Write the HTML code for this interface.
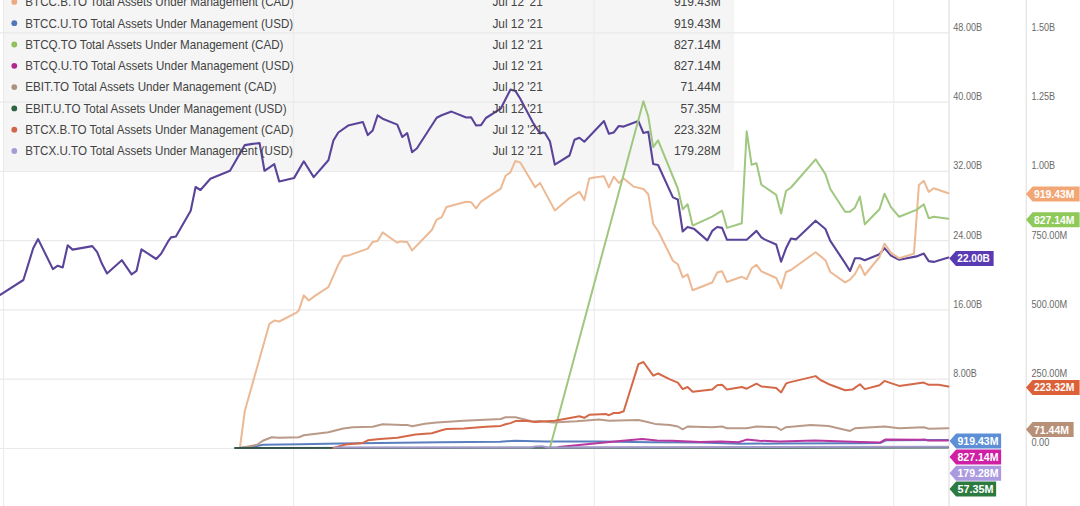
<!DOCTYPE html>
<html><head><meta charset="utf-8"><title>Total Assets Under Management</title>
<style>
html,body{margin:0;padding:0;background:#fff;overflow:hidden}
svg{display:block}
text{font-family:"Liberation Sans",Arial,sans-serif}
.lg{font-size:12.6px;fill:#434343}
.ax{font-size:10.5px;fill:#6a6a6a}
.tg{font-size:11.3px;font-weight:bold;fill:#fff}
</style></head><body>
<svg width="1080" height="506" viewBox="0 0 1080 506">
<rect x="0" y="0" width="1080" height="506" fill="#fff"/>
<rect x="3.5" y="-20" width="730.5" height="190.5" fill="#f5f5f5"/>
<line x1="0" x2="949" y1="32.8" y2="32.8" stroke="#e9e9e9" stroke-width="1.2"/>
<line x1="0" x2="949" y1="102.1" y2="102.1" stroke="#e9e9e9" stroke-width="1.2"/>
<line x1="0" x2="949" y1="171.4" y2="171.4" stroke="#e9e9e9" stroke-width="1.2"/>
<line x1="0" x2="949" y1="240.7" y2="240.7" stroke="#e9e9e9" stroke-width="1.2"/>
<line x1="0" x2="949" y1="309.9" y2="309.9" stroke="#e9e9e9" stroke-width="1.2"/>
<line x1="0" x2="949" y1="379.2" y2="379.2" stroke="#e9e9e9" stroke-width="1.2"/>
<line x1="0" x2="949" y1="448.5" y2="448.5" stroke="#e9e9e9" stroke-width="1.2"/>
<line x1="3.5" x2="3.5" y1="0" y2="506" stroke="#ebebeb" stroke-width="1.1"/>
<line x1="293.5" x2="293.5" y1="0" y2="506" stroke="#ebebeb" stroke-width="1.1"/>
<line x1="594.2" x2="594.2" y1="0" y2="506" stroke="#ebebeb" stroke-width="1.1"/>
<line x1="893.8" x2="893.8" y1="0" y2="506" stroke="#ebebeb" stroke-width="1.1"/>
<line x1="949" x2="949" y1="0" y2="506" stroke="#e6e6e6" stroke-width="1.4"/>
<line x1="1026.3" x2="1026.3" y1="0" y2="506" stroke="#e6e6e6" stroke-width="1.4"/>
<path d="M-3.0,297.5 L-1.2,295.7 L23.4,280.0 L33.2,248.3 L38.1,239.1 L52.9,269.1 L57.8,265.7 L62.7,267.4 L67.7,245.2 L72.6,249.6 L92.3,246.1 L97.2,252.2 L102.1,264.1 L107.0,273.5 L121.8,260.2 L131.6,274.4 L136.5,270.9 L141.5,249.3 L156.2,259.0 L161.1,253.7 L167.8,241.9 L171.0,237.4 L175.9,236.5 L190.7,210.7 L195.6,187.0 L200.5,190.0 L210.4,178.7 L220.2,174.7 L230.0,170.8 L244.8,145.1 L252.6,143.9 L259.6,143.1 L264.5,170.8 L274.3,164.2 L279.2,181.4 L294.0,178.1 L303.8,161.3 L313.7,177.1 L328.4,160.3 L333.4,140.5 L338.3,132.5 L348.1,125.6 L362.9,122.0 L367.8,135.1 L372.7,130.5 L377.6,115.3 L382.6,118.7 L397.3,124.6 L402.3,137.0 L407.2,133.1 L412.1,152.3 L417.0,148.3 L436.7,117.7 L441.6,115.3 L451.5,111.6 L466.2,117.5 L471.1,117.2 L476.1,125.5 L481.0,125.1 L485.9,118.0 L500.7,108.7 L510.5,89.5 L515.4,90.9 L520.3,98.8 L532.9,122.5 L540.0,133.4 L542.8,132.4 L544.9,133.0 L549.9,141.3 L554.8,164.6 L569.5,155.5 L574.5,139.7 L579.4,137.7 L584.3,141.7 L604.0,121.1 L608.9,133.8 L613.8,132.4 L618.8,126.0 L623.7,126.6 L638.4,121.1 L643.4,133.0 L648.3,131.8 L653.2,164.0 L658.1,165.0 L672.9,197.4 L677.8,199.5 L682.7,231.5 L687.6,227.0 L694.4,229.1 L707.3,240.4 L712.2,230.9 L717.2,227.0 L722.1,227.9 L727.0,239.8 L746.7,239.8 L756.5,230.9 L761.4,237.4 L764.5,239.4 L776.2,244.5 L781.1,261.7 L786.0,248.3 L791.0,238.5 L795.9,239.4 L815.6,220.7 L825.4,229.0 L830.3,240.9 L845.1,263.1 L850.0,271.0 L854.9,258.3 L859.9,258.3 L864.8,260.3 L879.5,254.2 L884.5,248.1 L891.0,255.6 L899.2,259.7 L916.5,256.4 L923.8,253.6 L928.7,261.1 L933.7,261.9 L948.4,257.5" fill="none" stroke="#5a4499" stroke-width="2.1" stroke-linejoin="round" stroke-linecap="round"/>
<path d="M239.9,448.0 L244.8,410.9 L269.4,323.8 L274.3,320.6 L279.2,321.5 L296.5,312.7 L298.9,310.3 L303.8,295.4 L308.8,300.5 L315.6,295.4 L328.4,287.2 L338.3,264.6 L343.2,256.3 L348.1,255.6 L367.8,248.6 L372.7,241.9 L377.6,240.9 L382.6,232.4 L397.3,242.7 L400.4,241.4 L407.2,241.9 L412.1,250.4 L431.8,230.0 L436.7,219.6 L441.6,217.4 L446.5,207.0 L466.2,201.7 L471.1,202.2 L476.1,208.3 L481.0,201.7 L500.7,188.7 L505.6,175.7 L510.5,172.2 L515.4,160.9 L520.3,162.6 L535.1,187.3 L540.0,182.9 L554.8,210.4 L569.5,198.0 L579.4,191.8 L584.3,200.1 L589.2,178.4 L594.2,177.6 L604.0,176.3 L608.9,187.3 L613.8,176.7 L618.8,182.9 L623.7,178.4 L633.5,186.6 L643.4,189.0 L648.3,194.2 L653.2,223.9 L658.1,231.0 L672.9,260.7 L677.8,264.2 L682.7,277.3 L687.6,274.4 L692.6,290.3 L712.2,282.5 L717.2,272.5 L722.1,271.3 L727.0,282.0 L741.8,276.8 L746.7,279.2 L751.6,268.3 L756.5,264.9 L761.4,271.3 L776.2,278.0 L781.1,288.4 L786.0,272.0 L791.0,270.0 L815.6,252.2 L825.4,260.2 L830.3,272.0 L845.1,282.4 L850.0,279.7 L854.9,274.1 L859.9,264.7 L864.8,275.0 L879.5,257.0 L884.5,243.7 L891.0,252.8 L899.2,258.3 L914.0,253.6 L918.9,184.9 L923.8,180.8 L928.7,191.9 L933.7,188.3 L948.4,193.2" fill="none" stroke="#ecb994" stroke-width="2" stroke-linejoin="round" stroke-linecap="round"/>
<path d="M240.0,448.0 L257.0,446.0 L263.0,444.8 L300.0,444.3 L340.0,443.4 L440.0,442.3 L500.0,441.7 L515.0,440.8 L545.0,441.5 L600.0,441.6 L650.0,442.2 L700.0,442.6 L740.0,443.8 L780.0,443.5 L860.0,443.2 L880.0,443.0 L886.0,440.3 L948.0,440.1" fill="none" stroke="#5a7fbf" stroke-width="2" stroke-linejoin="round" stroke-linecap="round"/>
<path d="M549.9,448.0 L643.4,101.3 L648.3,116.6 L653.2,147.2 L658.1,140.3 L677.8,188.5 L682.7,209.3 L687.6,204.2 L692.6,225.6 L712.2,216.7 L722.1,210.7 L727.0,227.9 L741.8,223.2 L746.7,131.3 L751.6,164.8 L756.5,163.3 L761.4,184.7 L776.2,194.9 L781.1,213.6 L786.0,191.0 L791.0,187.5 L815.6,159.3 L825.4,174.1 L830.3,189.0 L845.1,211.8 L850.0,211.8 L854.9,207.7 L859.9,196.6 L864.8,224.3 L879.5,209.3 L884.5,193.8 L891.0,207.1 L899.2,216.8 L916.5,209.9 L923.8,204.3 L928.7,218.2 L933.7,216.8 L948.4,218.7" fill="none" stroke="#9fc77f" stroke-width="2" stroke-linejoin="round" stroke-linecap="round"/>
<path d="M558.5,446.9 L620.0,441.1 L642.2,438.9 L657.0,440.4 L672.0,440.7 L700.0,441.9 L720.7,441.5 L738.5,442.2 L746.7,439.6 L759.3,440.7 L780.0,441.6 L815.0,440.6 L860.0,441.9 L880.4,442.4 L885.6,439.4 L919.6,439.8 L924.7,439.4 L928.1,440.6 L948.0,440.6" fill="none" stroke="#b8369f" stroke-width="2" stroke-linejoin="round" stroke-linecap="round"/>
<path d="M239.9,448.0 L257.2,444.8 L262.8,440.8 L271.7,437.2 L279.2,437.8 L298.9,437.2 L303.8,435.3 L328.4,432.2 L343.2,428.5 L353.0,427.3 L372.7,426.7 L382.6,424.3 L402.3,425.1 L407.2,424.9 L412.1,426.3 L424.9,423.7 L436.7,422.5 L463.7,420.8 L500.7,419.0 L505.6,417.2 L515.4,417.2 L532.5,421.4 L540.0,421.1 L552.7,422.5 L576.7,421.3 L599.1,419.6 L608.9,420.7 L638.4,420.0 L646.3,421.7 L655.0,423.9 L670.0,425.0 L677.8,426.5 L682.7,429.3 L687.6,426.5 L712.2,427.2 L722.1,426.5 L727.0,428.3 L746.7,428.3 L756.5,426.5 L776.2,427.2 L781.1,430.0 L786.0,427.2 L810.7,425.0 L828.5,426.1 L850.0,430.9 L854.9,428.3 L884.5,426.5 L899.2,428.3 L923.8,427.2 L928.7,428.7 L948.4,428.3" fill="none" stroke="#b99a88" stroke-width="2" stroke-linejoin="round" stroke-linecap="round"/>
<path d="M235.0,448.0 L948.0,447.6" fill="none" stroke="#35574a" stroke-width="2" stroke-linejoin="round" stroke-linecap="round"/>
<path d="M333.4,448.0 L345.4,444.5 L362.9,442.9 L367.8,440.3 L379.8,439.1 L397.3,437.7 L415.4,434.6 L431.8,433.2 L441.6,430.2 L446.5,429.1 L463.7,428.5 L485.9,426.7 L500.7,425.9 L505.6,424.3 L510.5,423.1 L515.4,421.1 L525.3,420.8 L535.1,421.9 L554.8,420.7 L579.4,416.3 L584.3,417.8 L589.2,414.8 L606.1,414.1 L608.9,415.2 L613.8,413.0 L618.8,413.0 L623.7,411.3 L638.4,364.1 L643.4,362.0 L653.2,375.7 L658.1,373.5 L670.0,379.3 L677.8,382.6 L682.7,389.1 L687.6,387.0 L692.6,391.7 L712.2,389.6 L717.2,385.2 L722.1,384.8 L727.0,389.6 L741.8,387.0 L746.7,388.7 L756.5,383.7 L761.4,386.5 L776.2,388.0 L781.1,392.4 L786.0,383.7 L788.3,382.6 L815.6,376.1 L820.5,380.0 L830.3,384.8 L845.1,390.2 L852.4,389.6 L859.9,384.3 L864.8,389.1 L879.5,385.2 L884.5,380.9 L889.4,382.6 L899.2,385.9 L923.8,382.6 L928.7,384.8 L938.6,384.8 L948.4,386.5" fill="none" stroke="#d46848" stroke-width="2" stroke-linejoin="round" stroke-linecap="round"/>
<path d="M335.0,447.6 L530.0,447.5 L536.0,446.4 L542.0,446.2 L548.0,447.4 L948.0,446.7" fill="none" stroke="#a29bc9" stroke-width="2" stroke-linejoin="round" stroke-linecap="round"/>
<circle cx="14.3" cy="1.9" r="2.9" fill="#eeaa80"/>
<text x="25.3" y="6.2" class="lg" textLength="268.3" lengthAdjust="spacingAndGlyphs">BTCC.B.TO Total Assets Under Management (CAD)</text>
<text x="492.4" y="6.2" class="lg" textLength="50.4" lengthAdjust="spacingAndGlyphs">Jul 12 '21</text>
<text x="720.8" y="6.2" class="lg" text-anchor="end" textLength="46.9" lengthAdjust="spacingAndGlyphs">919.43M</text>
<circle cx="14.3" cy="23.2" r="2.9" fill="#5077b8"/>
<text x="25.3" y="27.5" class="lg" textLength="267.8" lengthAdjust="spacingAndGlyphs">BTCC.U.TO Total Assets Under Management (USD)</text>
<text x="492.4" y="27.5" class="lg" textLength="50.4" lengthAdjust="spacingAndGlyphs">Jul 12 '21</text>
<text x="720.8" y="27.5" class="lg" text-anchor="end" textLength="46.9" lengthAdjust="spacingAndGlyphs">919.43M</text>
<circle cx="14.3" cy="44.5" r="2.9" fill="#90bf5e"/>
<text x="25.3" y="48.8" class="lg" textLength="258.2" lengthAdjust="spacingAndGlyphs">BTCQ.TO Total Assets Under Management (CAD)</text>
<text x="492.4" y="48.8" class="lg" textLength="50.4" lengthAdjust="spacingAndGlyphs">Jul 12 '21</text>
<text x="720.8" y="48.8" class="lg" text-anchor="end" textLength="46.9" lengthAdjust="spacingAndGlyphs">827.14M</text>
<circle cx="14.3" cy="65.8" r="2.9" fill="#b02a8c"/>
<text x="25.3" y="70.1" class="lg" textLength="268.3" lengthAdjust="spacingAndGlyphs">BTCQ.U.TO Total Assets Under Management (USD)</text>
<text x="492.4" y="70.1" class="lg" textLength="50.4" lengthAdjust="spacingAndGlyphs">Jul 12 '21</text>
<text x="720.8" y="70.1" class="lg" text-anchor="end" textLength="46.9" lengthAdjust="spacingAndGlyphs">827.14M</text>
<circle cx="14.3" cy="87.1" r="2.9" fill="#ad9080"/>
<text x="25.3" y="91.4" class="lg" textLength="251.1" lengthAdjust="spacingAndGlyphs">EBIT.TO Total Assets Under Management (CAD)</text>
<text x="492.4" y="91.4" class="lg" textLength="50.4" lengthAdjust="spacingAndGlyphs">Jul 12 '21</text>
<text x="720.8" y="91.4" class="lg" text-anchor="end" textLength="40.2" lengthAdjust="spacingAndGlyphs">71.44M</text>
<circle cx="14.3" cy="108.4" r="2.9" fill="#2f6443"/>
<text x="25.3" y="112.7" class="lg" textLength="261.3" lengthAdjust="spacingAndGlyphs">EBIT.U.TO Total Assets Under Management (USD)</text>
<text x="492.4" y="112.7" class="lg" textLength="50.4" lengthAdjust="spacingAndGlyphs">Jul 12 '21</text>
<text x="720.8" y="112.7" class="lg" text-anchor="end" textLength="40.2" lengthAdjust="spacingAndGlyphs">57.35M</text>
<circle cx="14.3" cy="129.7" r="2.9" fill="#d0654a"/>
<text x="25.3" y="134.0" class="lg" textLength="268.0" lengthAdjust="spacingAndGlyphs">BTCX.B.TO Total Assets Under Management (CAD)</text>
<text x="492.4" y="134.0" class="lg" textLength="50.4" lengthAdjust="spacingAndGlyphs">Jul 12 '21</text>
<text x="720.8" y="134.0" class="lg" text-anchor="end" textLength="46.9" lengthAdjust="spacingAndGlyphs">223.32M</text>
<circle cx="14.3" cy="151.0" r="2.9" fill="#a39dd6"/>
<text x="25.3" y="155.3" class="lg" textLength="267.6" lengthAdjust="spacingAndGlyphs">BTCX.U.TO Total Assets Under Management (USD)</text>
<text x="492.4" y="155.3" class="lg" textLength="50.4" lengthAdjust="spacingAndGlyphs">Jul 12 '21</text>
<text x="720.8" y="155.3" class="lg" text-anchor="end" textLength="46.9" lengthAdjust="spacingAndGlyphs">179.28M</text>
<text x="953.3" y="30.6" class="ax" textLength="28.7" lengthAdjust="spacingAndGlyphs">48.00B</text>
<text x="953.3" y="99.9" class="ax" textLength="28.7" lengthAdjust="spacingAndGlyphs">40.00B</text>
<text x="953.3" y="169.2" class="ax" textLength="28.7" lengthAdjust="spacingAndGlyphs">32.00B</text>
<text x="953.3" y="238.5" class="ax" textLength="28.7" lengthAdjust="spacingAndGlyphs">24.00B</text>
<text x="953.3" y="307.7" class="ax" textLength="28.7" lengthAdjust="spacingAndGlyphs">16.00B</text>
<text x="953.3" y="377.0" class="ax" textLength="23.6" lengthAdjust="spacingAndGlyphs">8.00B</text>
<text x="1031.4" y="30.6" class="ax" textLength="23.6" lengthAdjust="spacingAndGlyphs">1.50B</text>
<text x="1031.4" y="99.9" class="ax" textLength="23.6" lengthAdjust="spacingAndGlyphs">1.25B</text>
<text x="1031.4" y="169.2" class="ax" textLength="23.6" lengthAdjust="spacingAndGlyphs">1.00B</text>
<text x="1031.4" y="238.5" class="ax" textLength="35.9" lengthAdjust="spacingAndGlyphs">750.00M</text>
<text x="1031.4" y="307.7" class="ax" textLength="35.9" lengthAdjust="spacingAndGlyphs">500.00M</text>
<text x="1031.4" y="377.0" class="ax" textLength="35.9" lengthAdjust="spacingAndGlyphs">250.00M</text>
<text x="1031.4" y="446.3" class="ax" textLength="18.0" lengthAdjust="spacingAndGlyphs">0.00</text>
<polygon points="949.3,258.4 955.9,250.89999999999998 993.6,250.89999999999998 993.6,265.9 955.9,265.9" fill="#5a3ab3"/><text x="957.3" y="262.4" class="tg" textLength="32.5" lengthAdjust="spacingAndGlyphs">22.00B</text>
<polygon points="949.5,440.9 956.1,433.4 1001.1,433.4 1001.1,448.4 956.1,448.4" fill="#5d8fd6"/><text x="957.5" y="444.9" class="tg" textLength="41" lengthAdjust="spacingAndGlyphs">919.43M</text>
<polygon points="949.5,457.0 956.1,449.5 1001.1,449.5 1001.1,464.5 956.1,464.5" fill="#cf1fa4"/><text x="957.5" y="461.0" class="tg" textLength="41" lengthAdjust="spacingAndGlyphs">827.14M</text>
<polygon points="949.5,473.2 956.1,465.7 1001.1,465.7 1001.1,480.7 956.1,480.7" fill="#ab9ae0"/><text x="957.5" y="477.2" class="tg" textLength="41" lengthAdjust="spacingAndGlyphs">179.28M</text>
<polygon points="949.5,489.0 956.1,481.5 996.1,481.5 996.1,496.5 956.1,496.5" fill="#2c7a3f"/><text x="957.5" y="493.0" class="tg" textLength="36" lengthAdjust="spacingAndGlyphs">57.35M</text>
<polygon points="1026.0,194.0 1032.6,186.5 1079.6,186.5 1079.6,201.5 1032.6,201.5" fill="#f2a675"/><text x="1034.0" y="198.0" class="tg" textLength="40.5" lengthAdjust="spacingAndGlyphs">919.43M</text>
<polygon points="1026.0,219.7 1032.6,212.2 1079.6,212.2 1079.6,227.2 1032.6,227.2" fill="#8ec95a"/><text x="1034.0" y="223.7" class="tg" textLength="40.5" lengthAdjust="spacingAndGlyphs">827.14M</text>
<polygon points="1026.0,387.4 1032.6,379.9 1079.6,379.9 1079.6,394.9 1032.6,394.9" fill="#dc6139"/><text x="1034.0" y="391.4" class="tg" textLength="40.5" lengthAdjust="spacingAndGlyphs">223.32M</text>
<polygon points="1026.0,429.5 1032.6,422.0 1073.6,422.0 1073.6,437.0 1032.6,437.0" fill="#b89078"/><text x="1034.0" y="433.5" class="tg" textLength="35" lengthAdjust="spacingAndGlyphs">71.44M</text>
</svg>
</body></html>
